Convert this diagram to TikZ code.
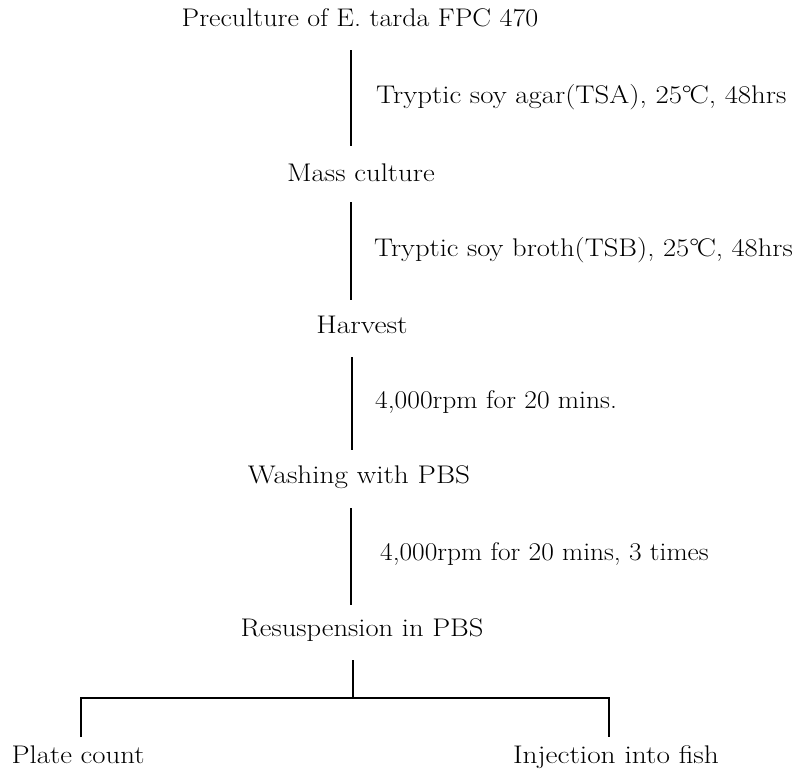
\documentclass[tikz,border=0pt]{standalone}
\usepackage{fontspec}
\usepackage{graphicx}
\newcommand{\dgC}{°\kern-0.08em C}
\newcommand{\sx}[2][1.13]{\scalebox{#1}[1]{#2}}
\begin{document}
\begin{tikzpicture}[x=1pt,y=-1pt,
  every node/.style={font=\fontsize{25.5}{30}\selectfont, inner sep=0pt},
  stage/.style={anchor=mid},
  note/.style={anchor=mid west},
  link/.style={line width=1.5pt}]
\useasboundingbox (0,0) rectangle (797,771);
% stages
\node[stage] (pre) at (360,24) {\sx[1.10]{Preculture of E. tarda FPC 470}};
\node[stage] (mass) at (361,179) {\sx{Mass culture}};
\node[stage] (harv) at (362,331) {\sx[1.16]{Harvest}};
\node[stage] (wash) at (359,481) {\sx[1.145]{Washing with PBS}};
\node[stage] (resus) at (362,634) {\sx[1.12]{Resuspension in PBS}};
\node[stage] (plate) at (78,761) {\sx{Plate count}};
\node[stage] (inj) at (616,761) {\sx[1.15]{Injection into fish}};
% notes
\node[note] (n1) at (376,101) {\sx{Tryptic soy agar(TSA), 25\dgC, 48hrs}};
\node[note] (n2) at (374,254) {\sx[1.12]{Tryptic soy broth(TSB), 25\dgC, 48hrs}};
\node[note] (n3) at (375,406) {\sx[1.08]{4,000rpm for 20 mins.}};
\node[note] (n4) at (380,558) {\sx[1.075]{4,000rpm for 20 mins, 3 times}};
% connector end points
\coordinate (a1) at (351,50);  \coordinate (b1) at (351,146);
\coordinate (a2) at (351,202); \coordinate (b2) at (351,300);
\coordinate (a3) at (352,357); \coordinate (b3) at (352,450);
\coordinate (a4) at (351,508); \coordinate (b4) at (351,605);
\coordinate (a5) at (353,660); \coordinate (j) at (353,698);
\coordinate (hl) at (81,698);  \coordinate (hr) at (609,698);
\coordinate (dl) at (81,737);  \coordinate (dr) at (609,737);
\draw[link] (a1) -- (b1);
\draw[link] (a2) -- (b2);
\draw[link] (a3) -- (b3);
\draw[link] (a4) -- (b4);
\draw[link] (a5) -- (j);
\draw[link] (dl) -- (hl) -- (hr) -- (dr);
\end{tikzpicture}
\end{document}
